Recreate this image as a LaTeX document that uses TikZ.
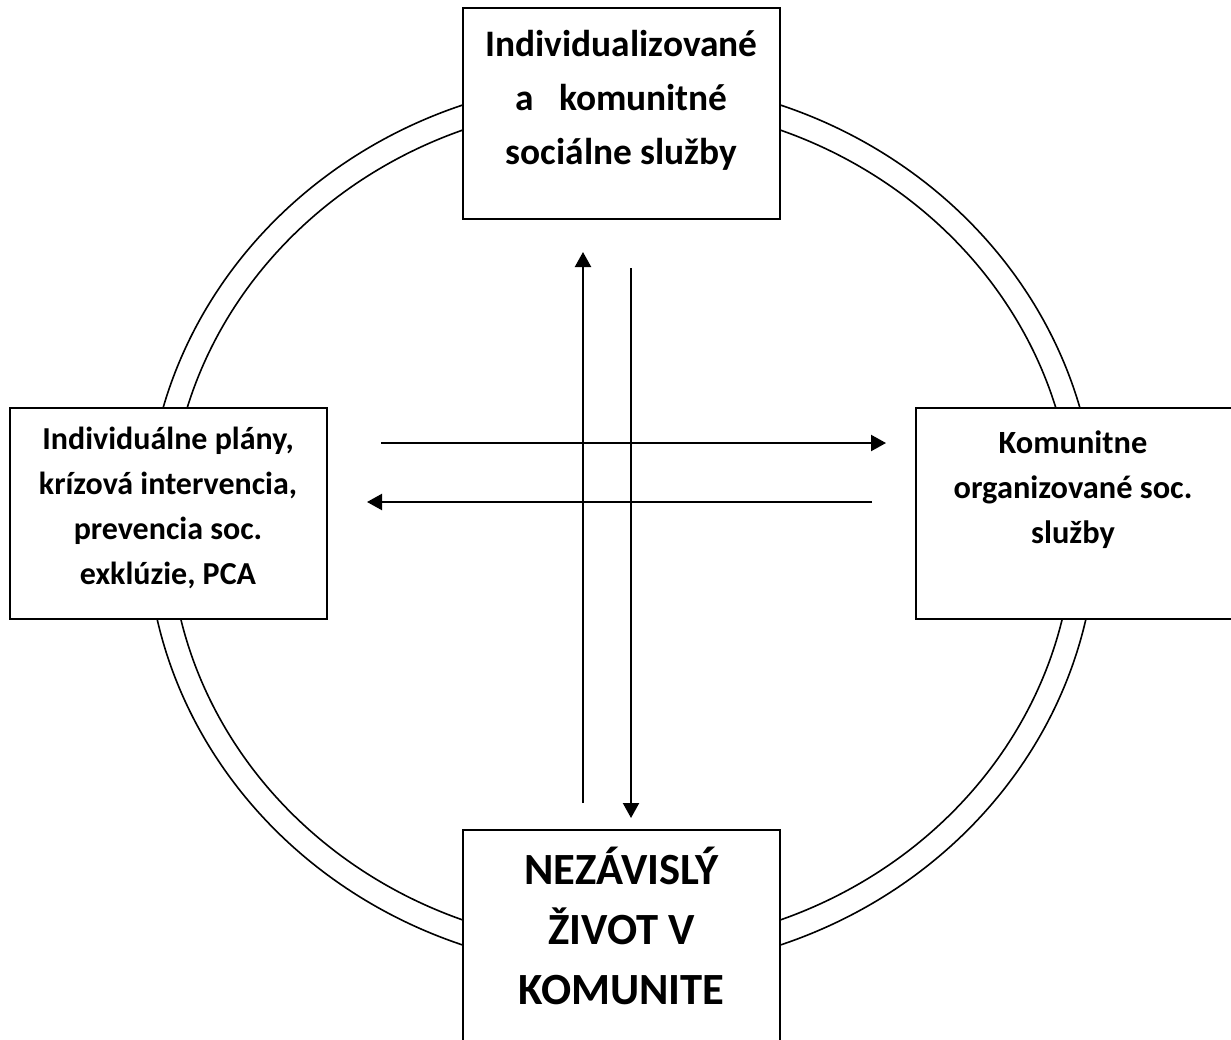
\documentclass[tikz,border=0pt]{standalone}
\usepackage{fontspec}
\setmainfont{Carlito}
\usetikzlibrary{arrows.meta}
\begin{document}
\begin{tikzpicture}[x=0.5pt,y=-0.5pt,
  ring/.style={draw=black,line width=0.8pt},
  box/.style={draw=black,fill=white,line width=0.9pt,rectangle},
  txt/.style={align=center,inner sep=0pt,font=\bfseries},
  arr/.style={line width=1.1pt,-{Triangle[length=7.5pt,width=8pt]}}]
\useasboundingbox (0,0) rectangle (1231,1039);
% rings
\draw[ring] (621.5,525) ellipse [x radius=475, y radius=445.5];
\draw[ring] (621.5,525) ellipse [x radius=452, y radius=421.7];
% boxes
\filldraw[box] (463,8) rectangle (780,219);
\filldraw[box] (10,408) rectangle (327,619);
\filldraw[box] (916,408) rectangle (1240,619);
\filldraw[box] (463,830) rectangle (780,1050);
\node[txt,font=\bfseries\fontsize{18.7pt}{27pt}\selectfont] (top) at (621.5,100)
  {Individualizované\\a\ \ \ komunitné\\sociálne služby};
\node[txt,font=\bfseries\fontsize{16pt}{22.5pt}\selectfont] (left) at (168,508)
  {Individuálne plány,\\krízová intervencia,\\prevencia soc.\\exklúzie, PCA};
\node[txt,font=\bfseries\fontsize{16.2pt}{22.5pt}\selectfont] (right) at (1073,490)
  {Komunitne\\organizované soc.\\služby};
\node[txt,font=\bfseries\fontsize{22.3pt}{30pt}\selectfont] (bottom) at (621.5,926)
  {NEZÁVISLÝ\\ŽIVOT V\\KOMUNITE};
% arrows
\coordinate (u1) at (583,803);
\coordinate (u2) at (583,252);
\coordinate (d1) at (631,268);
\coordinate (d2) at (631,818);
\coordinate (r1) at (381,443);
\coordinate (r2) at (886,443);
\coordinate (l1) at (872,502);
\coordinate (l2) at (367,502);
\draw[arr] (u1) -- (u2);
\draw[arr] (d1) -- (d2);
\draw[arr] (r1) -- (r2);
\draw[arr] (l1) -- (l2);
\end{tikzpicture}
\end{document}
